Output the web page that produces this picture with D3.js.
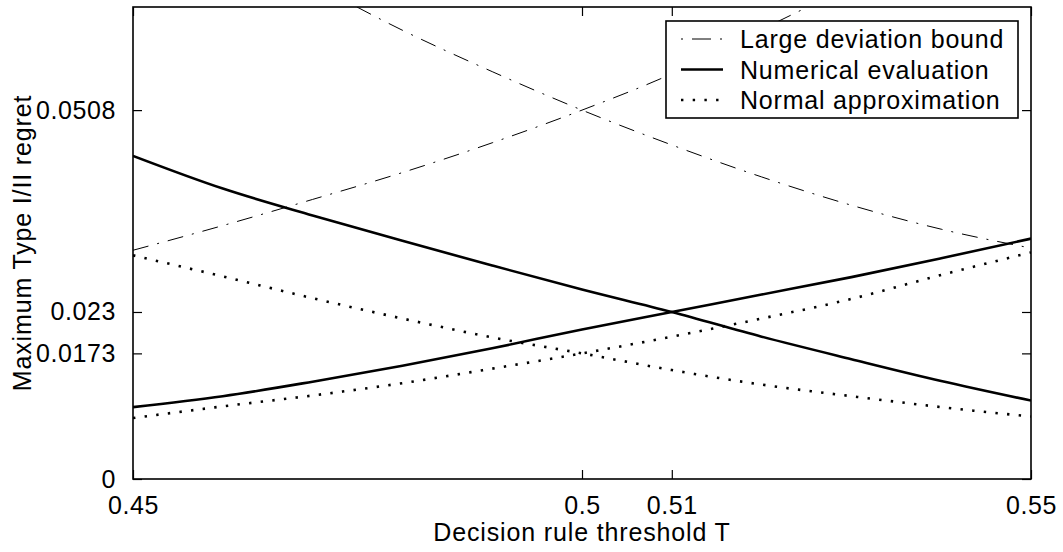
<!DOCTYPE html>
<html>
<head>
<meta charset="utf-8">
<script src="https://cdn.jsdelivr.net/npm/d3@7"></script>
<style>
  body { margin: 0; background: #fff; }
  svg text { font-family: "Liberation Sans", Arial, sans-serif; fill: #000; }
</style>
</head>
<body>
<svg id="chart" width="1063" height="552"></svg>
<script>
// decision rule thresholds
const thresholds = [0.45, 0.46, 0.47, 0.48, 0.49, 0.50, 0.51, 0.52, 0.53, 0.54, 0.55];

// large deviation bound (type I and type II)
const largeDevI  = [0.0315, 0.0349, 0.0385, 0.0422, 0.0463, 0.0508, 0.0558, 0.0619, 0.0680, 0.0745, 0.0810];
const largeDevII = [0.0810, 0.0745, 0.0682, 0.0618, 0.0561, 0.0508, 0.0460, 0.0416, 0.0377, 0.0344, 0.0318];

// numerical evaluation
const numericalI  = [0.0445, 0.0400, 0.0363, 0.0328, 0.0294, 0.0261, 0.0230, 0.0196, 0.0165, 0.0135, 0.0108];
const numericalII = [0.0099, 0.0114, 0.0134, 0.0156, 0.0180, 0.0206, 0.0230, 0.0254, 0.0278, 0.0304, 0.0331];

// normal approximation
const normalI  = [0.0308, 0.0279, 0.0249, 0.0221, 0.0195, 0.0173, 0.0150, 0.0130, 0.0114, 0.0099, 0.0086];
const normalII = [0.0084, 0.0100, 0.0115, 0.0132, 0.0152, 0.0173, 0.0196, 0.0221, 0.0248, 0.0281, 0.0312];

const xTicks = [0.45, 0.5, 0.51, 0.55];
const yTicks = [0, 0.0173, 0.023, 0.0508];

const legendLabels = ["Large deviation bound", "Numerical evaluation", "Normal approximation"];

const styles = {
    dashdot: { width: 1, dash: "16,9,2,9" },
    solid:   { width: 2.6, dash: null },
    dotted:  { width: 2.6, dash: "2.4,9.3" }
};

const series = [
    { values: largeDevI, style: "dashdot" },
    { values: largeDevII, style: "dashdot" },
    { values: numericalI, style: "solid" },
    { values: numericalII, style: "solid" },
    { values: normalI, style: "dotted" },
    { values: normalII, style: "dotted" }
];

const margin = { left: 133, right: 32, top: 7, bottom: 73 };
const width = 1063, height = 552;

const svg = d3.select("#chart");

const x = d3.scaleLinear().domain([0.45, 0.55]).range([margin.left, width - margin.right]);
const y = d3.scaleLinear().domain([0, 0.065]).range([height - margin.bottom, margin.top]);

svg.append("defs").append("clipPath").attr("id", "plotClip")
    .append("rect")
    .attr("x", margin.left).attr("y", margin.top)
    .attr("width", x.range()[1] - margin.left)
    .attr("height", y.range()[0] - margin.top);

const line = d3.line()
    .x((d, i) => x(thresholds[i]))
    .y(d => y(d))
    .curve(d3.curveMonotoneX);

const plot = svg.append("g").attr("clip-path", "url(#plotClip)");

series.forEach(function (s) {
    const st = styles[s.style];
    plot.append("path")
        .attr("d", line(s.values))
        .attr("fill", "none")
        .attr("stroke", "#000")
        .attr("stroke-width", st.width)
        .attr("stroke-dasharray", st.dash);
});

// axes, ticks inside on all four sides
const tickLen = 9;
const fontSize = 25;
const spacing = "0.6px";

svg.append("g")
    .attr("transform", "translate(0," + y(0) + ")")
    .call(d3.axisBottom(x).tickValues(xTicks).tickSize(-tickLen).tickPadding(tickLen + 8).tickFormat(d3.format("")))
    .call(g => g.select(".domain").remove())
    .call(g => g.selectAll("text").attr("font-size", fontSize).attr("font-family", null).attr("letter-spacing", spacing));

svg.append("g")
    .attr("transform", "translate(0," + margin.top + ")")
    .call(d3.axisTop(x).tickValues(xTicks).tickSize(-tickLen).tickFormat(""))
    .call(g => g.select(".domain").remove());

svg.append("g")
    .attr("transform", "translate(" + margin.left + ",0)")
    .call(d3.axisLeft(y).tickValues(yTicks).tickSize(-tickLen).tickPadding(tickLen + 8).tickFormat(d3.format("")))
    .call(g => g.select(".domain").remove())
    .call(g => g.selectAll("text").attr("font-size", fontSize).attr("font-family", null).attr("letter-spacing", spacing));

svg.append("g")
    .attr("transform", "translate(" + x.range()[1] + ",0)")
    .call(d3.axisRight(y).tickValues(yTicks).tickSize(-tickLen).tickFormat(""))
    .call(g => g.select(".domain").remove());

svg.selectAll(".tick line").attr("stroke", "#000").attr("stroke-width", 1.2);

svg.append("rect")
    .attr("x", margin.left).attr("y", margin.top)
    .attr("width", x.range()[1] - margin.left)
    .attr("height", y.range()[0] - margin.top)
    .attr("fill", "none")
    .attr("stroke", "#000")
    .attr("stroke-width", 1.6);

// axis titles
svg.append("text")
    .attr("x", (x.range()[0] + x.range()[1]) / 2)
    .attr("y", 541)
    .attr("text-anchor", "middle")
    .attr("font-size", fontSize)
    .attr("letter-spacing", "0.85px")
    .text("Decision rule threshold T");

svg.append("text")
    .attr("transform", "translate(31," + ((y.range()[0] + y.range()[1]) / 2) + ") rotate(-90)")
    .attr("text-anchor", "middle")
    .attr("font-size", fontSize)
    .attr("letter-spacing", "0.85px")
    .text("Maximum Type I/II regret");

// legend
const legend = svg.append("g").attr("transform", "translate(666,21)");
legend.append("rect")
    .attr("width", 352).attr("height", 97)
    .attr("fill", "#fff")
    .attr("stroke", "#000")
    .attr("stroke-width", 1.6);

const legendStyles = ["dashdot", "solid", "dotted"];
legendLabels.forEach(function (label, i) {
    const cy = 18 + i * 30.5;
    const st = styles[legendStyles[i]];
    let dash = st.dash;
    if (legendStyles[i] === "dashdot") dash = "2,9,19,9,2,9";
    legend.append("line")
        .attr("x1", 15).attr("x2", 57)
        .attr("y1", cy).attr("y2", cy)
        .attr("stroke", "#000")
        .attr("stroke-width", st.width)
        .attr("stroke-dasharray", dash);
    legend.append("text")
        .attr("x", 74).attr("y", cy + 9)
        .attr("font-size", fontSize)
        .attr("letter-spacing", "0.8px")
        .text(label);
});
</script>
</body>
</html>
